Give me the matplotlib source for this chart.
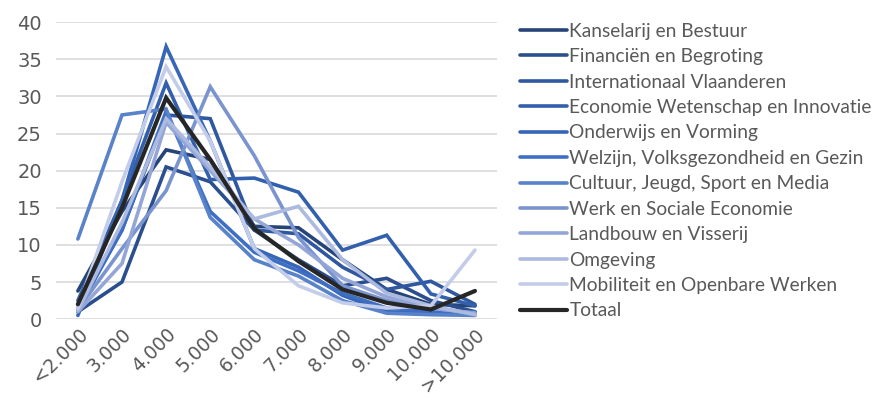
import matplotlib
matplotlib.use("Agg")
import matplotlib.pyplot as plt
import numpy as np

# categorieën (loonklassen)
categories = ["<2.000", "3.000", "4.000", "5.000", "6.000", "7.000",
              "8.000", "9.000", "10.000", ">10.000"]

kanselarij = [3.8, 14.5, 22.8, 21.5, 12.5, 12.3, 8.0, 4.0, 2.0, 1.8]
financien = [1.0, 5.0, 20.5, 18.5, 12.0, 8.0, 4.5, 5.5, 2.5, 1.0]
internationaal = [1.5, 12.0, 27.5, 27.0, 12.0, 11.5, 7.0, 4.0, 5.1, 2.0]
economie = [2.5, 16.0, 31.8, 18.8, 19.0, 17.1, 9.3, 11.3, 3.4, 1.8]
onderwijs = [0.5, 16.0, 36.7, 24.0, 9.5, 7.0, 3.2, 1.0, 0.8, 0.7]
welzijn = [1.2, 12.0, 28.0, 14.5, 9.0, 6.5, 3.5, 1.5, 1.0, 1.0]
cultuur = [10.8, 27.5, 28.3, 13.7, 8.0, 5.8, 2.5, 0.8, 0.6, 0.5]
werk = [1.3, 9.5, 17.3, 31.3, 22.0, 11.0, 4.5, 2.5, 1.5, 0.8]
landbouw = [1.0, 7.5, 26.5, 20.0, 13.5, 10.0, 5.5, 3.0, 1.5, 0.8]
omgeving = [1.2, 13.0, 27.0, 20.5, 13.5, 15.2, 8.0, 3.5, 1.8, 0.6]
mobiliteit = [1.5, 18.5, 34.0, 24.0, 9.5, 4.5, 2.2, 1.5, 1.8, 9.3]
totaal = [2.0, 15.0, 29.8, 21.5, 12.2, 7.8, 4.0, 2.2, 1.3, 3.8]

series = [
    ("Kanselarij en Bestuur", kanselarij, "#264478"),
    ("Financiën en Begroting", financien, "#2b4f8e"),
    ("Internationaal Vlaanderen", internationaal, "#2f58a0"),
    ("Economie Wetenschap en Innovatie", economie, "#3360ad"),
    ("Onderwijs en Vorming", onderwijs, "#3866b7"),
    ("Welzijn, Volksgezondheid en Gezin", welzijn, "#3e6fc4"),
    ("Cultuur, Jeugd, Sport en Media", cultuur, "#5882c9"),
    ("Werk en Sociale Economie", werk, "#7a94d0"),
    ("Landbouw en Visserij", landbouw, "#94a6d7"),
    ("Omgeving", omgeving, "#adbadf"),
    ("Mobiliteit en Openbare Werken", mobiliteit, "#c3cce9"),
    ("Totaal", totaal, "#262626"),
]

text_col = "#595959"

fig = plt.figure(figsize=(8.72, 3.95), dpi=100)
ax = fig.add_axes([0.064, 0.192, 0.506, 0.752])

x = np.arange(len(categories))
for name, vals, col in series:
    lw = 3.0 if name == "Totaal" else 2.6
    ax.plot(x, vals, color=col, lw=lw, label=name, solid_capstyle="round",
            solid_joinstyle="miter")

ax.set_xlim(-0.5, len(categories) - 0.5)
ax.set_ylim(0, 40)
ax.set_yticks(np.arange(0, 41, 5))
ax.yaxis.grid(True, color="#d9d9d9", lw=1.2)
ax.set_axisbelow(True)
for s in ax.spines.values():
    s.set_visible(False)
ax.tick_params(length=0, colors=text_col, labelsize=14)
ax.tick_params(axis="y", pad=10)
ax.tick_params(axis="x", pad=4, labelsize=13.5)
ax.set_xticks(x)
ax.set_xticklabels(categories, rotation=45, ha="right", rotation_mode="anchor",
                   color=text_col)

fig.legend(loc="upper left", bbox_to_anchor=(0.587, 0.962), frameon=False,
           prop={"family": "Lato", "size": 13.8}, labelcolor=text_col,
           handlelength=2.5, handletextpad=0.1, labelspacing=0.44,
           borderaxespad=0)

fig.savefig("out.png", dpi=100)
